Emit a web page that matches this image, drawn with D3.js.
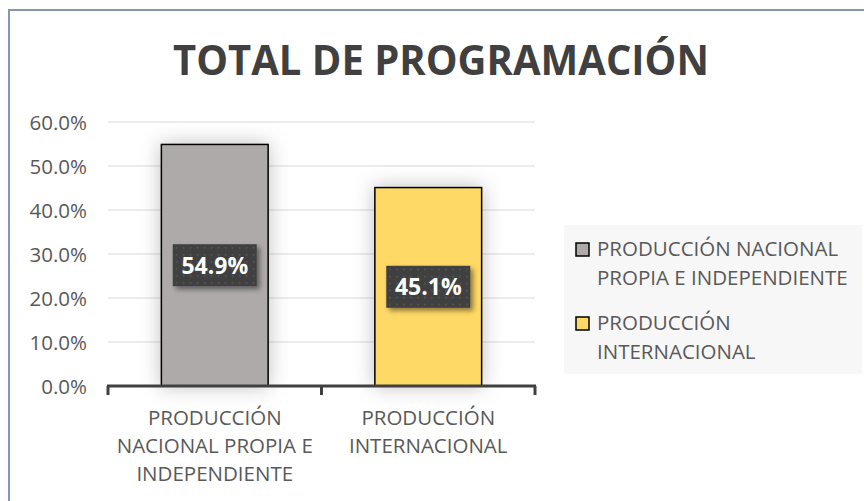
<!DOCTYPE html>
<html lang="es">
<head>
    <meta charset="UTF-8">
    <title>Total de programación</title>
    <script src="https://cdn.jsdelivr.net/npm/d3@7/dist/d3.min.js"></script>
    <style>
        body { margin: 0; background: #fff; }
        svg text { font-family: "Open Sans", "Noto Sans", sans-serif; }
    </style>
</head>
<body>
    <svg width="864" height="501" id="chart"></svg>
    <script>
        // data
        const categories = ['PRODUCCIÓN NACIONAL PROPIA E INDEPENDIENTE', 'PRODUCCIÓN INTERNACIONAL'];
        const categoryLines = [['PRODUCCIÓN', 'NACIONAL PROPIA E', 'INDEPENDIENTE'], ['PRODUCCIÓN', 'INTERNACIONAL']];
        const values = [0.549, 0.451];
        const colors = ['#aeaaaa', '#ffd966'];
        const yTicks = [0, 0.1, 0.2, 0.3, 0.4, 0.5, 0.6];
        const legendLines = [['PRODUCCIÓN NACIONAL', 'PROPIA E INDEPENDIENTE'], ['PRODUCCIÓN', 'INTERNACIONAL']];

        const svg = d3.select('#chart');
        const defs = svg.append('defs');

        const pat = defs.append('pattern')
            .attr('id', 'dots')
            .attr('width', 7).attr('height', 7)
            .attr('patternUnits', 'userSpaceOnUse');
        pat.append('rect').attr('width', 7).attr('height', 7).attr('fill', '#404040');
        pat.append('rect').attr('x', 3).attr('y', 3).attr('width', 1.5).attr('height', 1.5).attr('fill', '#5a5a5a');

        const sh = defs.append('filter').attr('id', 'boxShadow')
            .attr('x', '-20%').attr('y', '-20%').attr('width', '150%').attr('height', '160%');
        sh.append('feDropShadow').attr('dx', 3).attr('dy', 3).attr('stdDeviation', 2.5)
            .attr('flood-color', '#000').attr('flood-opacity', 0.45);

        const glow = defs.append('filter').attr('id', 'barGlow')
            .attr('x', '-40%').attr('y', '-20%').attr('width', '180%').attr('height', '140%');
        glow.append('feDropShadow').attr('dx', 0).attr('dy', 0).attr('stdDeviation', 10)
            .attr('flood-color', '#000').attr('flood-opacity', 0.25);

        // outer frame
        svg.append('rect')
            .attr('x', 9).attr('y', 10).attr('width', 870).attr('height', 510)
            .attr('fill', '#fff').attr('stroke', '#8497b0').attr('stroke-width', 2);

        svg.append('text')
            .attr('x', 441).attr('y', 75)
            .attr('text-anchor', 'middle')
            .attr('font-size', 42).attr('font-weight', 'bold')
            .attr('fill', '#404040')
            .attr('textLength', 536).attr('lengthAdjust', 'spacingAndGlyphs')
            .text('TOTAL DE PROGRAMACIÓN');

        const x = d3.scaleBand()
            .domain(categories)
            .range([108, 535])
            .paddingInner(0.5)
            .paddingOuter(0.25);

        const y = d3.scaleLinear().domain([0, 0.6]).range([386, 122]);

        // gridlines
        svg.append('g')
            .selectAll('line')
            .data(yTicks.slice(1))
            .enter()
            .append('line')
            .attr('x1', 108).attr('x2', 535)
            .attr('y1', d => y(d)).attr('y2', d => y(d))
            .attr('stroke', '#d9d9d9').attr('stroke-width', 1);

        const yAxis = svg.append('g')
            .attr('transform', 'translate(87,0)')
            .call(d3.axisLeft(y).tickValues(yTicks).tickFormat(d3.format('.1%')).tickSize(0).tickPadding(0));
        yAxis.select('.domain').remove();
        yAxis.selectAll('text')
            .attr('font-size', 20.5).attr('fill', '#595959')
            .attr('font-family', '"Open Sans", sans-serif')
            .attr('dy', '0.36em');

        // bars
        svg.append('g')
            .selectAll('rect')
            .data(values)
            .enter()
            .append('rect')
            .attr('x', (d, i) => x(categories[i]))
            .attr('y', d => y(d))
            .attr('width', x.bandwidth())
            .attr('height', d => y(0) - y(d))
            .attr('fill', (d, i) => colors[i])
            .attr('stroke', '#000').attr('stroke-width', 1.5)
            .attr('filter', 'url(#barGlow)');

        // x axis line with ticks
        const xAxis = svg.append('g')
            .attr('transform', 'translate(0,' + y(0) + ')');
        xAxis.append('line')
            .attr('x1', 107).attr('x2', 536)
            .attr('stroke', '#404040').attr('stroke-width', 3);
        const tickXs = [x.range()[0], x.range()[0] + x.step(), x.range()[1]];
        xAxis.selectAll('line.tick')
            .data(tickXs)
            .enter()
            .append('line')
            .attr('class', 'tick')
            .attr('x1', d => d).attr('x2', d => d)
            .attr('y1', 0).attr('y2', 9)
            .attr('stroke', '#404040').attr('stroke-width', 3);

        // category labels
        svg.append('g')
            .selectAll('text')
            .data(categories)
            .enter()
            .append('text')
            .attr('text-anchor', 'middle')
            .attr('font-size', 20.5).attr('fill', '#595959')
            .each(function(d, i) {
                const t = d3.select(this);
                categoryLines[i].forEach((line, j) => {
                    t.append('tspan')
                        .attr('x', x(d) + x.bandwidth() / 2)
                        .attr('y', 425 + j * 28)
                        .text(line);
                });
            });

        // data labels
        const labels = svg.append('g')
            .selectAll('g')
            .data(values)
            .enter()
            .append('g')
            .attr('transform', (d, i) => 'translate(' + (x(categories[i]) + x.bandwidth() / 2) + ',' + ((y(d) + y(0)) / 2) + ')');
        labels.append('rect')
            .attr('x', -42).attr('y', -21)
            .attr('width', 84).attr('height', 42)
            .attr('fill', 'url(#dots)')
            .attr('filter', 'url(#boxShadow)');
        labels.append('text')
            .attr('text-anchor', 'middle')
            .attr('dy', '0.36em')
            .attr('font-size', 23).attr('font-weight', 'bold')
            .attr('fill', '#fff')
            .text(d => d3.format('.1%')(d));

        // legend
        const legend = svg.append('g');
        legend.append('rect')
            .attr('x', 564).attr('y', 225).attr('width', 298).attr('height', 149)
            .attr('fill', '#f7f7f7');
        const items = legend.selectAll('g')
            .data(legendLines)
            .enter()
            .append('g')
            .attr('transform', (d, i) => 'translate(576,' + (243 + i * 74) + ')');
        items.append('rect')
            .attr('width', 13).attr('height', 13)
            .attr('fill', (d, i) => colors[i])
            .attr('stroke', '#000').attr('stroke-width', 1.5);
        items.append('text')
            .attr('font-size', 20.5).attr('fill', '#595959')
            .each(function(d) {
                const t = d3.select(this);
                d.forEach((line, j) => {
                    t.append('tspan')
                        .attr('x', 21)
                        .attr('y', 13 + j * 29)
                        .text(line);
                });
            });
    </script>
</body>
</html>
